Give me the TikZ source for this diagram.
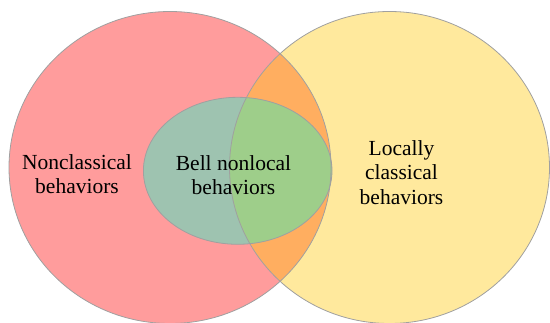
\documentclass[tikz,border=0pt]{standalone}
\usepackage{fontspec}
\setmainfont{Liberation Serif}
\usepackage{tikz}
\definecolor{pinkset}{RGB}{255,156,156}
\definecolor{yellowset}{RGB}{255,233,157}
\definecolor{orangeset}{RGB}{255,174,96}
\definecolor{tealset}{RGB}{158,195,176}
\definecolor{greenset}{RGB}{158,206,138}
\definecolor{edgegray}{RGB}{160,160,160}

\begin{document}
\begin{tikzpicture}[x=1pt,y=-1pt,font=\rmfamily\fontsize{21.5}{24.5}\selectfont,
set/.style={draw=edgegray,line width=0.8pt},
lbl/.style={align=center,inner sep=0pt}]
\useasboundingbox (0,0) rectangle (550,323);
\def\nonclassicalset{(170,167.5) ellipse [x radius=161,y radius=156]}
\def\localset{(389.5,167.5) ellipse [x radius=160,y radius=156]}
\def\bellset{(237.7,170.8) ellipse [x radius=94.3,y radius=73.5]}
\fill[pinkset] \nonclassicalset;
\fill[yellowset] \localset;
\begin{scope}
\clip \nonclassicalset;
\fill[orangeset] \localset;
\end{scope}
\fill[tealset] \bellset;
\begin{scope}
\clip \localset;
\fill[greenset] \bellset;
\end{scope}
\draw[set] \nonclassicalset;
\draw[set] \localset;
\draw[set] \bellset;
\node[lbl] (nonclassical) at (77,174) {Nonclassical\\behaviors};
\node[lbl] (bell) at (233.5,175) {Bell nonlocal\\behaviors};
\node[lbl] (local) at (401.5,172.3) {Locally\\classical\\behaviors};
\end{tikzpicture}
\end{document}
